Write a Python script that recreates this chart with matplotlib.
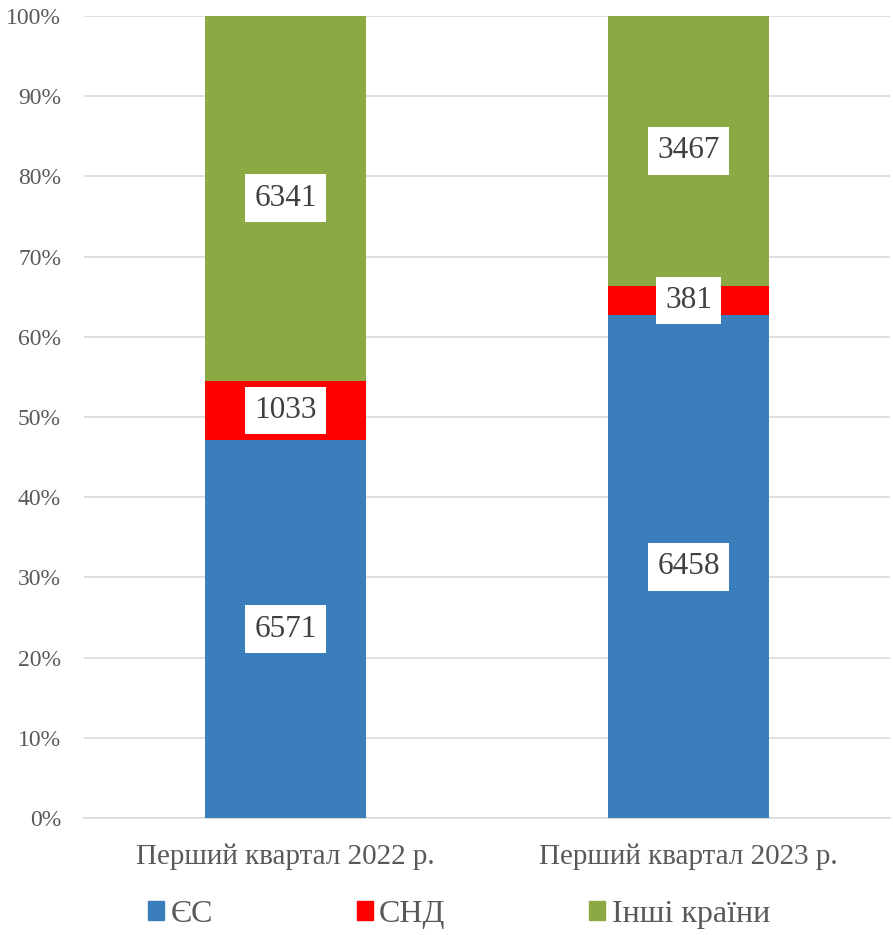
import numpy as np
import matplotlib.pyplot as plt
from matplotlib.patches import Patch

categories = ['Перший квартал 2022 р.', 'Перший квартал 2023 р.']
series_names = ['ЄС', 'СНД', 'Інші країни']
eu = [6571, 6458]
cis = [1033, 381]
other = [6341, 3467]
colors = ['#3A7FBB', '#FF0000', '#8CAA44']

plt.rcParams['font.family'] = ['Liberation Serif', 'DejaVu Serif']

data = np.array([eu, cis, other], dtype=float)
share = data / data.sum(axis=0) * 100

fig = plt.figure(figsize=(8.93, 9.35), dpi=100)
ax = fig.add_axes([0.094, 0.125, 0.9026, 0.858])

x = np.arange(len(categories))
bottom = np.zeros(len(categories))
for i, name in enumerate(series_names):
    ax.bar(x, share[i], 0.4, bottom=bottom, color=colors[i], zorder=3)
    for j in range(len(categories)):
        ax.text(x[j], bottom[j] + share[i][j] / 2, f'{int(data[i][j])}',
                ha='center', va='center', fontsize=22.5, color='#404040', zorder=4,
                bbox=dict(boxstyle='square,pad=0.3', fc='white', ec='none'))
    bottom += share[i]

ax.set_xlim(-0.5, 1.5)
ax.set_ylim(0, 100)
ax.set_yticks(np.arange(0, 101, 10))
ax.set_yticklabels([f'{v}%' for v in range(0, 101, 10)])
ax.set_xticks(x)
ax.set_xticklabels(categories)
ax.tick_params(axis='y', length=0, labelsize=17, labelcolor='#595959', pad=16.5)
ax.tick_params(axis='x', length=0, labelsize=21, labelcolor='#595959', pad=18)
ax.grid(axis='y', color='#D9D9D9', linewidth=1.2, zorder=0)
for s in ['top', 'right', 'left']:
    ax.spines[s].set_visible(False)
ax.spines['bottom'].set_color('#D9D9D9')
ax.spines['bottom'].set_linewidth(1.2)

handles = [Patch(color=c) for c in colors]
leg = fig.legend(handles, series_names, loc='center', bbox_to_anchor=(0.514, 0.022),
                 ncol=3, frameon=False, fontsize=23, handlelength=0.5, handleheight=0.5,
                 handletextpad=0.2, columnspacing=4.5)
for t in leg.get_texts():
    t.set_color('#595959')

fig.savefig('out.png', dpi=100)
